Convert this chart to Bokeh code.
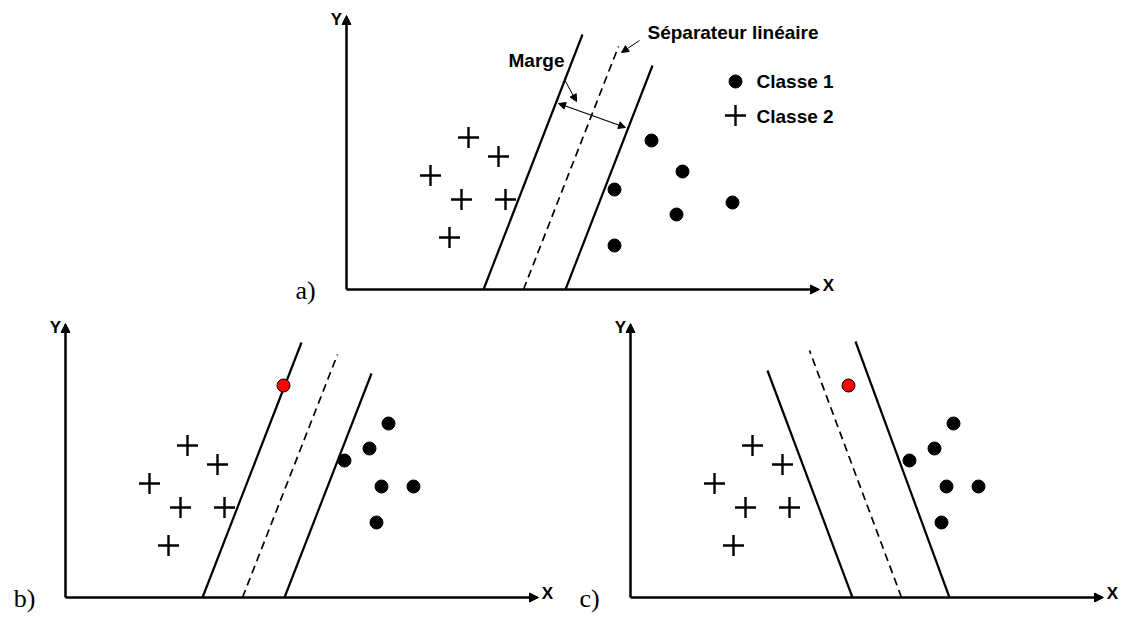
from bokeh.plotting import figure
from bokeh.models import Range1d, Arrow, NormalHead
from bokeh.core.properties import value
from bokeh.embed import file_html
from bokeh.resources import INLINE

# ---- data (panel-local units: x to the right, y upwards from the axes origin) ----
plus_x = [122, 152, 84, 115, 159, 103]          # Classe 2 (same in all panels)
plus_y = [152, 133, 114, 90, 90, 52]
dots_a_x = [305, 336, 268, 330, 386, 268]       # Classe 1, panel a
dots_a_y = [149, 118, 100, 75, 87, 44]
dots_bc_x = [323, 304, 279, 316, 348, 311]      # Classe 1, panels b and c
dots_bc_y = [174, 149, 137, 111, 111, 75]
new_point_x = [218]                              # red point, panels b and c
new_point_y = [212]

# separators: (left margin, separator, right margin) as [x_bottom, x_top], [y_bottom, y_top]
sep_ab = {"left": ([137, 236], [0, 255]), "mid": ([177, 272], [0, 243]), "right": ([219, 306], [0, 224])}
sep_c = {"left": ([222, 137], [0, 227]), "mid": ([271, 179], [0, 247]), "right": ([319, 225], [0, 256])}

panel_labels = ["a)", "b)", "c)"]
legend_labels = ["Classe 1", "Classe 2"]
sep_label = "Séparateur linéaire"
margin_label = "Marge"

# ---- layout (page pixel positions of each panel origin) ----
origins = {"a": (346, 289), "b": (65, 597), "c": (630, 597)}
AX_LEN_X, AX_LEN_Y = 473, 274

W, H = 1121, 615
p = figure(width=W, height=H, x_range=Range1d(0, W), y_range=Range1d(H, 0),
           output_backend="svg", toolbar_location=None, min_border=0,
           x_axis_location=None, y_axis_location=None)
p.grid.visible = False
p.outline_line_color = None
p.background_fill_color = "white"

SANS = value("Liberation Sans")
SERIF = value("Liberation Serif")


def tx(o, xs):
    return [o[0] + v for v in xs]


def ty(o, ys):
    return [o[1] - v for v in ys]


def arrow(o, x0, y0, x1, y1, width=1.0, size=8, both=False):
    head = NormalHead(size=size, fill_color="black", line_color="black", line_width=1)
    kw = dict(end=head, x_start=o[0] + x0, y_start=o[1] - y0, x_end=o[0] + x1, y_end=o[1] - y1,
              line_width=width, line_color="black")
    if both:
        kw["start"] = NormalHead(size=size, fill_color="black", line_color="black", line_width=1)
    else:
        kw["start"] = None
    p.add_layout(Arrow(**kw))


for key, lab in zip(["a", "b", "c"], panel_labels):
    o = origins[key]
    # axes
    arrow(o, 0, 0, AX_LEN_X, 0, width=2.5, size=9)
    arrow(o, 0, 0, 0, AX_LEN_Y, width=2.5, size=9)
    p.text(tx(o, [AX_LEN_X + 9]), ty(o, [4]), text=["X"], text_font=SANS, text_font_style="bold",
           text_font_size="17px", text_align="center", text_baseline="middle", color="black")
    p.text(tx(o, [-10]), ty(o, [270]), text=["Y"], text_font=SANS, text_font_style="bold",
           text_font_size="17px", text_align="center", text_baseline="middle", color="black")
    p.text(tx(o, [-41]), ty(o, [-1]), text=[lab], text_font=SERIF,
           text_font_size="26px", text_align="center", text_baseline="middle", color="black")

    sep = sep_c if key == "c" else sep_ab
    for part in ["left", "right"]:
        xs, ys = sep[part]
        p.line(tx(o, xs), ty(o, ys), line_width=2.2, color="black")
    xs, ys = sep["mid"]
    p.line(tx(o, xs), ty(o, ys), line_width=1.7, color="black", line_dash="8 5")

    # points
    p.scatter(tx(o, plus_x), ty(o, plus_y), marker="cross", size=21, line_width=2.4, color="black")
    if key == "a":
        p.scatter(tx(o, dots_a_x), ty(o, dots_a_y), marker="circle", size=13, color="black")
    else:
        p.scatter(tx(o, dots_bc_x), ty(o, dots_bc_y), marker="circle", size=13, color="black")
        p.scatter(tx(o, new_point_x), ty(o, new_point_y), marker="circle", size=13,
                  fill_color="#ff0000", line_color="black", line_width=1)

# annotations of panel a
o = origins["a"]
p.scatter(tx(o, [389]), ty(o, [208]), marker="circle", size=13, color="black")
p.scatter(tx(o, [389]), ty(o, [174]), marker="cross", size=21, line_width=2.4, color="black")
p.text(tx(o, [410, 410]), ty(o, [208, 173]), text=legend_labels, text_font=SANS, text_font_style="bold",
       text_font_size="19px", text_align="left", text_baseline="middle", color="black")
p.text(tx(o, [301]), ty(o, [257]), text=[sep_label], text_font=SANS, text_font_style="bold",
       text_font_size="19px", text_align="left", text_baseline="middle", color="black")
arrow(o, 293, 249, 275, 237, width=1, size=7)
p.text(tx(o, [190]), ty(o, [229]), text=[margin_label], text_font=SANS, text_font_style="bold",
       text_font_size="19px", text_align="center", text_baseline="middle", color="black")
arrow(o, 218, 210, 230, 188, width=1, size=7)
arrow(o, 212, 186, 279, 162, width=1.2, size=7, both=True)

open("out.html", "w").write(file_html(p, INLINE))
